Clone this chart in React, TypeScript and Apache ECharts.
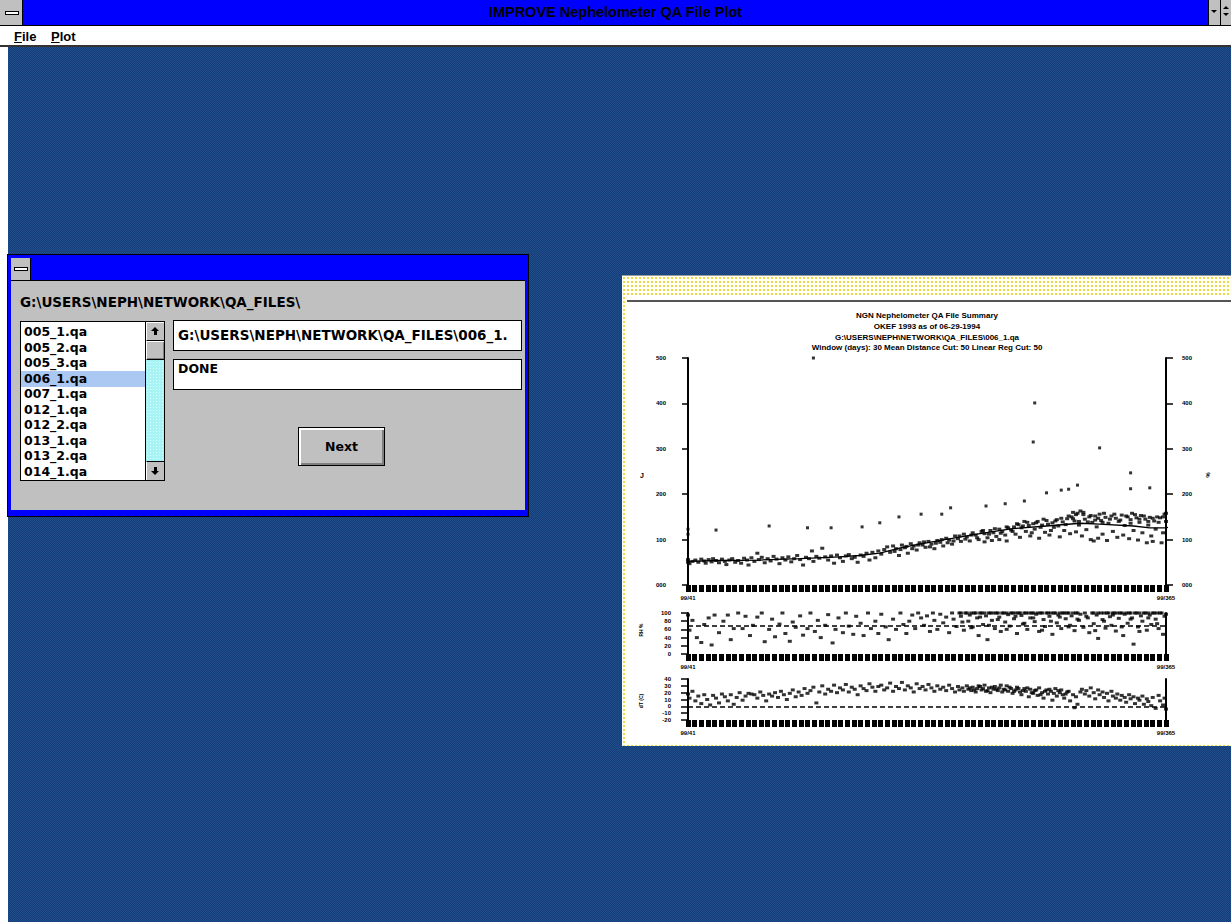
import React, { useEffect, useRef } from "react";
import * as echarts from "echarts";

// ---------- text content ----------
const windowTitle = "IMPROVE Nephelometer QA File Plot";
const menuItems = ["File", "Plot"];
const dirLabel = "G:\\USERS\\NEPH\\NETWORK\\QA_FILES\\";
const fileList = ["005_1.qa", "005_2.qa", "005_3.qa", "006_1.qa", "007_1.qa", "012_1.qa", "012_2.qa", "013_1.qa", "013_2.qa", "014_1.qa"];
const selectedFile = "006_1.qa";
const pathText = "G:\\USERS\\NEPH\\NETWORK\\QA_FILES\\006_1.";
const statusText = "DONE";
const buttonText = "Next";

const titleLines = [
  "NGN Nephelometer QA File Summary",
  "OKEF 1993 as of 06-29-1994",
  "G:\\USERS\\NEPH\\NETWORK\\QA_FILES\\006_1.qa",
  "Window (days): 30 Mean Distance Cut: 50 Linear Reg Cut: 50",
];
const xEndLabels = ["99/41", "99/365"];
const TICK_COUNT = 73;
const dayRange = [41, 365];
const mainRange = [0, 500, 100];
const rhRange = [0, 100, 20];
const dtRange = [-20, 40, 10];
const rhCut = 70;
const dtCut = 0;
const axisNames = ["J", "%", "RH %", "dT (C)"];

// ---------- data: [day of year, value] ----------
const mainPoints = [
  [41, 50], [41, 56], [42, 47], [44, 52], [46, 55], [48, 50], [50, 57], [52, 53], [53, 48], [55, 56], [57, 51], [58, 58],
  [60, 54], [62, 49], [64, 57], [66, 52], [67, 45], [69, 55], [71, 58], [73, 50], [75, 54], [77, 48], [79, 59], [81, 55],
  [82, 44], [84, 60], [86, 52], [88, 70], [89, 56], [91, 61], [93, 49], [95, 58], [97, 53], [99, 63], [101, 57], [103, 47],
  [105, 60], [107, 55], [109, 62], [111, 51], [113, 58], [115, 65], [117, 56], [119, 44], [121, 61], [123, 58], [125, 75],
  [126, 52], [128, 63], [130, 59], [132, 81], [134, 62], [136, 55], [138, 64], [140, 48], [142, 66], [144, 60], [146, 52],
  [148, 64], [150, 67], [152, 58], [154, 61], [156, 50], [158, 66], [160, 63], [162, 70], [164, 55], [166, 72], [168, 60],
  [170, 75], [172, 68], [174, 78], [176, 84], [178, 72], [180, 86], [182, 80], [184, 65], [186, 88], [188, 82], [190, 70],
  [192, 91], [194, 86], [196, 77], [198, 93], [200, 88], [202, 83], [204, 96], [206, 90], [208, 80], [210, 98], [212, 94],
  [214, 86], [216, 103], [218, 99], [220, 90], [222, 108], [224, 102], [226, 96], [228, 112], [230, 106], [232, 97],
  [234, 115], [236, 110], [238, 100], [240, 118], [242, 113], [242, 95], [244, 104], [246, 120], [247, 98], [248, 115],
  [250, 107], [252, 123], [252, 100], [254, 118], [256, 110], [257, 97], [258, 126], [260, 121],
  [262, 128], [263, 112], [265, 133], [266, 105], [268, 130], [270, 118], [271, 138], [273, 108], [275, 135], [276, 123],
  [278, 140], [279, 103], [281, 132], [283, 116], [284, 142], [286, 110], [288, 137], [289, 127], [291, 144], [293, 106],
  [295, 139], [296, 120], [298, 146], [300, 113], [301, 150], [302, 160], [303, 141], [304, 117], [305, 158], [306, 132],
  [307, 163], [308, 108], [309, 155], [310, 145], [311, 122], [313, 150], [314, 100], [315, 138], [316, 97], [317, 152],
  [318, 128], [319, 103], [320, 156], [321, 142], [322, 112], [324, 149], [325, 98], [326, 136], [328, 152], [329, 118],
  [331, 147], [332, 105], [333, 140], [335, 154], [336, 110], [337, 131], [339, 150], [340, 102], [341, 144], [342, 158],
  [343, 120], [345, 148], [346, 99], [347, 138], [348, 153], [349, 115], [351, 145], [352, 93], [353, 132], [354, 149],
  [355, 108], [356, 96], [357, 141], [358, 123], [359, 150], [361, 148], [362, 93], [363, 115], [364, 156], [365, 140],
  [181, 74], [185, 78], [189, 85], [193, 80], [197, 88], [201, 95], [205, 84], [209, 92], [213, 100], [217, 93], [221, 97],
  [225, 108], [229, 101], [233, 110], [237, 104], [241, 120], [245, 112], [249, 124], [253, 114], [257, 128], [261, 118],
  [264, 135], [267, 126], [269, 140], [272, 131], [274, 115], [277, 137], [280, 127], [282, 145], [285, 134], [287, 120],
  [290, 141], [292, 130], [294, 147], [297, 133], [299, 152], [302, 146], [304, 155], [306, 140], [309, 160], [312, 139],
  [314, 153], [317, 143], [319, 147], [322, 138], [323, 158], [327, 145], [330, 156], [334, 143], [338, 152], [341, 136],
  [344, 155], [347, 145], [350, 152], [353, 140], [356, 147], [360, 138], [363, 150], [365, 158],
];

const outlierPoints = [
  [41, 123], [41, 112], [60, 121], [96, 130], [122, 126], [126, 500], [138, 126], [159, 128], [171, 137], [184, 150],
  [199, 156], [213, 156], [219, 170], [243, 174], [256, 179], [269, 185], [275, 315], [276, 401], [284, 203], [294, 209],
  [299, 211], [305, 220], [320, 302], [341, 212], [341, 247], [354, 214],
];

const trendDays = [41, 63, 90, 117, 144, 157, 171, 185, 198, 217, 239, 261, 284, 307, 320, 343, 354, 365, 372, 383];
const trendValues = [52, 54, 55, 58, 62, 65, 70, 82, 90, 101, 113, 124, 130, 136, 134, 130, 126, 126, 130, 131];

const rhPoints = [
  [41, 95], [42, 58], [44, 82], [47, 40], [50, 28], [52, 72], [55, 88], [57, 22], [59, 95], [62, 52], [65, 80], [68, 95],
  [70, 35], [72, 62], [75, 100], [78, 62], [80, 92], [83, 45], [85, 70], [88, 90], [91, 100], [93, 30], [96, 60], [98, 85],
  [100, 42], [103, 73], [105, 100], [107, 50], [110, 31], [112, 78], [114, 65], [117, 93], [119, 46], [122, 62], [124, 100],
  [127, 55], [129, 82], [131, 40], [134, 70], [136, 96], [139, 27], [141, 60], [143, 88], [146, 52], [148, 100], [150, 68],
  [153, 48], [155, 92], [158, 75], [160, 45], [163, 100], [165, 62], [168, 80], [170, 50], [172, 97], [175, 66], [177, 35],
  [180, 85], [182, 60], [185, 100], [187, 72], [189, 50],
  [191, 80], [193, 95], [195, 62], [197, 100], [199, 88], [201, 70], [203, 93], [205, 55], [207, 100], [208, 82], [210, 60],
  [212, 97], [214, 76], [216, 90], [218, 52], [220, 100], [221, 85], [223, 67], [225, 100], [226, 92], [228, 58], [229, 100],
  [231, 80], [232, 95], [234, 66], [235, 100], [237, 88], [238, 45], [240, 100], [241, 72], [243, 93], [244, 35], [246, 100],
  [247, 82], [249, 62], [250, 100], [252, 90], [253, 55], [255, 100], [256, 78], [258, 96], [259, 68], [261, 100], [262, 86],
  [264, 50], [265, 100], [267, 94], [268, 73], [270, 100], [271, 60], [273, 88], [274, 100], [276, 79], [277, 97], [279, 55],
  [280, 100], [282, 84], [283, 67], [285, 100], [286, 92], [288, 48], [289, 100], [291, 76], [292, 95], [294, 62], [295, 100],
  [297, 86], [298, 100], [300, 70], [301, 93], [303, 57], [304, 100], [306, 82], [307, 97], [309, 65], [310, 100], [312, 88],
  [313, 52], [315, 100], [316, 74], [318, 95], [319, 38], [321, 100], [322, 84], [324, 63], [325, 100], [327, 91], [328, 70],
  [330, 100], [331, 56], [333, 87], [334, 100], [336, 45], [337, 97], [339, 75], [340, 100], [342, 88], [343, 24], [345, 100],
  [346, 66], [348, 93], [349, 80], [351, 100], [352, 58], [354, 95], [355, 72], [357, 100], [358, 85], [360, 62], [361, 100],
  [363, 48], [364, 92], [365, 97],
  [226, 100], [230, 100], [233, 100], [236, 100], [239, 100], [242, 100], [245, 100], [248, 100], [251, 100], [254, 100],
  [257, 100], [260, 100], [263, 100], [266, 100], [269, 100], [272, 100], [275, 100], [278, 100], [281, 100], [284, 100],
  [287, 100], [290, 100], [293, 100], [296, 100], [299, 100], [302, 100], [305, 100], [316, 100], [319, 100], [323, 100],
  [326, 100], [329, 100], [332, 100], [335, 100], [338, 100], [341, 100], [344, 100], [347, 100], [350, 100], [353, 100],
  [356, 100], [359, 100], [362, 100],
  [227, 78], [233, 64], [239, 90], [245, 70], [251, 84], [257, 60], [263, 92], [269, 75], [275, 88], [281, 58], [287, 80],
  [293, 90], [299, 66], [305, 85], [311, 92], [317, 57], [323, 80], [329, 95], [335, 66], [341, 85], [347, 55], [353, 88],
  [359, 74],
];

const dtPoints = [
  [41, 18], [42, 12], [44, 22], [46, 8], [48, 15], [50, 4], [52, 17], [54, 10], [56, 2], [58, 16], [60, 12], [62, 5], [64, 18],
  [66, 14], [68, 8], [70, 17], [72, 3], [74, 13], [76, 20], [78, 9], [80, 15], [82, 19], [84, 18], [86, 17], [88, 12], [90, 21],
  [92, 16], [94, 8], [96, 18], [98, 15], [100, 20], [102, 13], [104, 22], [106, 17], [108, 10], [110, 19], [112, 24], [114, 14],
  [116, 21], [118, 16], [120, 26], [122, 19], [124, 23], [126, 28], [128, 5], [130, 21], [132, 30], [134, 18], [136, 25],
  [138, 22], [140, 31], [142, 20], [144, 27], [146, 24], [148, 32], [150, 21], [152, 28], [154, 25], [156, 17], [158, 30],
  [160, 26], [162, 23], [164, 33], [166, 28], [168, 22], [170, 29], [172, 31], [174, 24], [176, 27], [178, 34], [180, 22],
  [182, 29], [184, 26], [186, 35], [188, 24], [190, 30], [192, 27], [194, 21], [196, 33], [198, 26], [200, 29], [202, 24],
  [204, 32], [206, 27], [208, 22], [210, 30], [212, 25], [214, 28], [216, 23], [218, 31], [220, 26], [222, 21], [224, 29],
  [225, 24], [227, 27], [228, 22], [230, 30], [231, 25], [233, 23], [234, 28], [236, 21], [237, 26], [239, 29], [240, 24],
  [242, 31], [243, 22], [245, 27], [246, 20], [248, 25], [249, 29], [251, 23], [252, 27], [254, 21], [255, 25], [257, 30],
  [258, 22], [260, 26], [261, 19], [263, 24], [264, 28], [266, 21], [267, 17], [269, 26], [270, 22], [272, 14], [273, 25],
  [275, 19], [276, 23], [278, 16], [279, 27], [281, 20], [282, 12], [284, 24], [285, 18], [287, 22], [288, 9], [290, 26],
  [291, 15], [293, 20], [294, 24], [296, 12], [297, 18], [299, 22], [300, 8], [302, 17], [303, -2], [304, 14], [305, 3],
  [307, 21], [308, 25], [310, 18], [311, 23], [313, 15], [314, 27], [316, 20], [317, 11], [319, 24], [320, 17], [322, 21],
  [323, 13], [325, 19], [326, 8], [328, 22], [329, 15], [331, 12], [332, 18], [334, 9], [335, 16], [337, 13], [338, 6],
  [340, 17], [341, 11], [343, 14], [344, 4], [346, 12], [347, 9], [349, 15], [350, 3], [352, 11], [353, 7], [355, 1],
  [356, 13], [358, -3], [360, 16], [361, 8], [363, 2], [364, 12], [365, -4],
  [232, 27], [235, 24], [238, 30], [241, 26], [244, 23], [247, 28], [250, 25], [253, 31], [256, 24], [259, 28], [262, 22],
  [265, 26], [268, 23], [271, 27], [274, 20], [277, 24], [280, 17], [283, 22], [286, 25], [289, 19], [292, 23], [295, 17],
  [298, 21],
];

// ---------- chart option ----------
const CFONT = "'Liberation Sans', Arial, sans-serif";
const tickLbl = { fontFamily: CFONT, fontSize: 6, fontWeight: "bold" as const, color: "#000" };
const catData = Array.from({ length: TICK_COUNT }, (_, i) =>
  i === 0 ? xEndLabels[0] : i === TICK_COUNT - 1 ? xEndLabels[1] : ""
);

const grids = [
  { left: 66, top: 82, width: 478, height: 227 },
  { left: 66, top: 337, width: 478, height: 41 },
  { left: 66, top: 403, width: 478, height: 41 },
];

function hiddenX(gridIndex: number) {
  return {
    type: "value", gridIndex, min: dayRange[0], max: dayRange[1], show: false, position: "bottom",
    axisLine: { onZero: false },
  };
}
function bandX(gridIndex: number) {
  return {
    type: "category", gridIndex, data: catData, boundaryGap: false, position: "bottom",
    axisLine: { show: false, onZero: false },
    axisTick: { show: true, interval: 0, length: 7, lineStyle: { color: "#000", width: 5 } },
    axisLabel: { interval: 0, margin: 10, ...tickLbl },
    splitLine: { show: false },
  };
}
function yAx(gridIndex: number, r: number[], position: string, opts: any) {
  return {
    type: "value", gridIndex, position, min: r[0], max: r[1], interval: r[2],
    axisLine: { show: true, onZero: false, lineStyle: { color: "#000", width: 2 } },
    axisTick: { show: opts.ticks !== false, length: opts.tickLen || 6, lineStyle: { color: "#000", width: 1.5 } },
    axisLabel: { show: opts.labels !== false, margin: opts.margin || 8, formatter: opts.fmt, ...tickLbl },
    splitLine: { show: false },
  };
}
const fmtMain = (v: number) => (v === 0 ? "000" : String(v));
const dash = { silent: true, symbol: "none", label: { show: false }, lineStyle: { type: [5, 3], color: "#000", width: 1.5 } };

const txt = (text: string, x: number, y: number, size: number, rotation = 0) => ({
  type: "text", x, y, rotation,
  style: {
    text, fill: "#000", font: `bold ${size}px ${CFONT}`,
    align: "center", verticalAlign: "middle", textAlign: "center", textVerticalAlign: "middle",
  },
});

const dot = { symbol: "rect", itemStyle: { color: "#000" } };

const option: any = {
  animation: false,
  backgroundColor: "transparent",
  grid: grids,
  xAxis: [hiddenX(0), bandX(0), hiddenX(1), bandX(1), hiddenX(2), bandX(2)],
  yAxis: [
    yAx(0, mainRange, "left", { margin: 22, tickLen: 6, fmt: fmtMain }),
    yAx(0, mainRange, "right", { margin: 16, tickLen: 7, fmt: fmtMain }),
    yAx(1, rhRange, "left", { margin: 17, tickLen: 7 }),
    yAx(1, rhRange, "right", { ticks: false, labels: false }),
    yAx(2, dtRange, "left", { margin: 17, tickLen: 7 }),
    yAx(2, dtRange, "right", { ticks: false, labels: false }),
  ],
  graphic: [
    ...titleLines.map((t, i) => txt(t, 305, [39, 50, 61, 71][i], 8)),
    txt(axisNames[0], 20, 199, 7),
    txt(axisNames[1], 586, 199, 6, -Math.PI / 2),
    txt(axisNames[2], 19, 354, 5, Math.PI / 2),
    txt(axisNames[3], 19, 425, 5, Math.PI / 2),
  ],
  series: [
    { type: "scatter", xAxisIndex: 0, yAxisIndex: 0, data: mainPoints, symbolSize: [4, 3], ...dot },
    { type: "scatter", xAxisIndex: 0, yAxisIndex: 0, data: outlierPoints, symbolSize: 3, ...dot },
    {
      type: "line", xAxisIndex: 0, yAxisIndex: 0, clip: false, symbol: "none", showSymbol: false,
      data: trendDays.map((d, i) => [d, trendValues[i]]), lineStyle: { color: "#000", width: 1.3 },
    },
    {
      type: "scatter", xAxisIndex: 2, yAxisIndex: 2, data: rhPoints, symbolSize: [4, 3], ...dot,
      markLine: { ...dash, data: [{ yAxis: rhCut }] },
    },
    {
      type: "scatter", xAxisIndex: 4, yAxisIndex: 4, data: dtPoints, symbolSize: [4, 3], ...dot,
      markLine: { ...dash, data: [{ yAxis: dtCut }] },
    },
  ],
};

function QAChart() {
  const ref = useRef<HTMLDivElement>(null);
  useEffect(() => {
    const chart = echarts.init(ref.current!, null, { renderer: "svg" });
    chart.setOption(option);
    return () => chart.dispose();
  }, []);
  return <div ref={ref} style={{ position: "absolute", left: 0, top: 0, width: 609, height: 471 }} />;
}

// ---------- Windows chrome ----------
const SYS = "'Liberation Sans', Arial, sans-serif";
const DLG = "'DejaVu Sans', 'Liberation Sans', sans-serif";
const abs = (l: number, t: number, w: number, h: number, extra: any = {}) => ({
  position: "absolute" as const, left: l, top: t, width: w, height: h, boxSizing: "border-box" as const, ...extra,
});

function Tri({ up, l, t, s = 4 }: { up: boolean; l: number; t: number; s?: number }) {
  return (
    <div style={{
      position: "absolute", left: l, top: t, width: 0, height: 0,
      borderLeft: `${s}px solid transparent`, borderRight: `${s}px solid transparent`,
      [up ? "borderBottom" : "borderTop"]: `${s}px solid #000`,
    }} />
  );
}

function Arrow({ up, l, t }: { up: boolean; l: number; t: number }) {
  return (
    <>
      <Tri up={up} l={l} t={up ? t : t + 4} s={4} />
      <div style={abs(l + 2.5, up ? t + 4 : t, 3, 4, { background: "#000" })} />
    </>
  );
}

function SysBox({ l, t, w, h }: any) {
  return (
    <div style={abs(l, t, w, h, { background: "#c0c0c0", borderRight: "1px solid #000" })}>
      <div style={abs(Math.round(w / 2) - 7, Math.round(h / 2) - 2, 14, 4, { background: "#fff", border: "1px solid #000" })} />
    </div>
  );
}

export default function App() {
  const desktop = {
    backgroundColor: "#1b4586",
    backgroundImage: "repeating-conic-gradient(#163c78 0% 25%, #204f8e 0% 50%)",
    backgroundSize: "2px 2px",
  };
  return (
    <div style={{ position: "fixed", left: 0, top: 0, width: 1231, height: 922, overflow: "hidden", ...desktop, fontFamily: SYS }}>
      {/* main title bar */}
      <div style={abs(0, 0, 1231, 26, { background: "#0000ff", borderBottom: "1px solid #000" })}>
        <SysBox l={0} t={0} w={23} h={25} />
        <div style={abs(0, 0, 1231, 25, { textAlign: "center", lineHeight: "25px", fontSize: 14.5, fontWeight: "bold", color: "#000" })}>
          {windowTitle}
        </div>
        <div style={abs(1208, 0, 12, 25, { background: "#c0c0c0", borderLeft: "1px solid #000" })}>
          <Tri up={false} l={2} t={10} s={3} />
        </div>
        <div style={abs(1220, 0, 11, 25, { background: "#c0c0c0", borderLeft: "1px solid #000" })}>
          <Tri up={true} l={2} t={6} s={3} />
          <Tri up={false} l={2} t={13} s={3} />
        </div>
      </div>
      {/* menu bar */}
      <div style={abs(0, 26, 1231, 21, { background: "#fff", borderBottom: "2px solid #333" })}>
        {menuItems.map((m, i) => (
          <div key={m} style={abs([14, 51][i], 2, 40, 17, { fontSize: 13, fontWeight: "bold", lineHeight: "17px", color: "#000" })}>
            <span style={{ textDecoration: "underline" }}>{m[0]}</span>{m.slice(1)}
          </div>
        ))}
      </div>
      {/* left white strip */}
      <div style={abs(0, 47, 8, 875, { background: "#fff" })} />

      {/* dialog */}
      <div style={abs(7, 254, 522, 263, { background: "#0000ff", border: "1px solid #000" })}>
        <div style={abs(3, 3, 514, 23, { background: "#0000ff", borderBottom: "1px solid #000" })}>
          <SysBox l={0} t={0} w={20} h={22} />
        </div>
        <div style={abs(3, 26, 514, 229, { background: "#c0c0c0", fontFamily: DLG })}>
          <div style={abs(9, 12, 420, 18, { fontSize: 13.5, fontWeight: "bold", lineHeight: "18px", color: "#000" })}>{dirLabel}</div>
          {/* list box */}
          <div style={abs(9, 40, 145, 160, { background: "#fff", border: "1px solid #000" })}>
            {fileList.map((f, i) => (
              <div key={f} style={abs(0, 2 + i * 15.5, 124, 16, {
                background: f === selectedFile ? "#aac8f2" : "transparent",
                paddingLeft: 3, fontSize: 12.5, fontWeight: "bold", lineHeight: "16px", color: "#000", whiteSpace: "nowrap",
              })}>{f}</div>
            ))}
            {/* scrollbar */}
            <div style={abs(124, 0, 19, 158, { background: "#a8f4f4", borderLeft: "1px solid #000",
              backgroundImage: "radial-gradient(circle, #d8ffff 0.6px, transparent 1px)", backgroundSize: "3px 3px" })}>
              <div style={abs(0, 0, 18, 19, { background: "#c0c0c0", borderBottom: "1px solid #000", borderTop: "1px solid #fff", borderLeft: "1px solid #fff" })}>
                <Arrow up={true} l={4} t={4} />
              </div>
              <div style={abs(0, 19, 18, 19, { background: "#c0c0c0", borderBottom: "1px solid #000", borderTop: "1px solid #fff", borderLeft: "1px solid #fff", boxShadow: "inset -1px -1px 0 #808080" })} />
              <div style={abs(0, 139, 18, 19, { background: "#c0c0c0", borderTop: "1px solid #000", borderLeft: "1px solid #fff" })}>
                <Arrow up={false} l={4} t={5} />
              </div>
            </div>
          </div>
          {/* text boxes */}
          <div style={abs(162, 39, 349, 31, { background: "#fff", border: "1px solid #000", paddingLeft: 4,
            fontSize: 13.5, fontWeight: "bold", lineHeight: "28px", color: "#000", whiteSpace: "nowrap", overflow: "hidden" })}>{pathText}</div>
          <div style={abs(162, 78, 349, 31, { background: "#fff", border: "1px solid #000", paddingLeft: 4,
            fontSize: 12.5, fontWeight: "bold", lineHeight: "18px", color: "#000" })}>{statusText}</div>
          {/* button */}
          <div style={abs(287, 146, 87, 39, { background: "#c0c0c0", border: "1px solid #000",
            boxShadow: "inset 2px 2px 0 #fff, inset -2px -2px 0 #808080",
            textAlign: "center", lineHeight: "37px", fontSize: 12.5, fontWeight: "bold", color: "#000" })}>{buttonText}</div>
        </div>
      </div>

      {/* chart panel */}
      <div style={abs(622, 275, 609, 471, {
        backgroundColor: "#fffff4",
        backgroundImage: "radial-gradient(circle, #e6da4e 0.8px, transparent 1.2px)",
        backgroundSize: "4px 4px",
        borderTop: "1px solid #9a9a9a",
      })}>
        <div style={abs(5, 19, 604, 448, { background: "#fff" })} />
        <div style={abs(5, 24, 604, 2, { background: "#555" })} />
        <QAChart />
      </div>
    </div>
  );
}
